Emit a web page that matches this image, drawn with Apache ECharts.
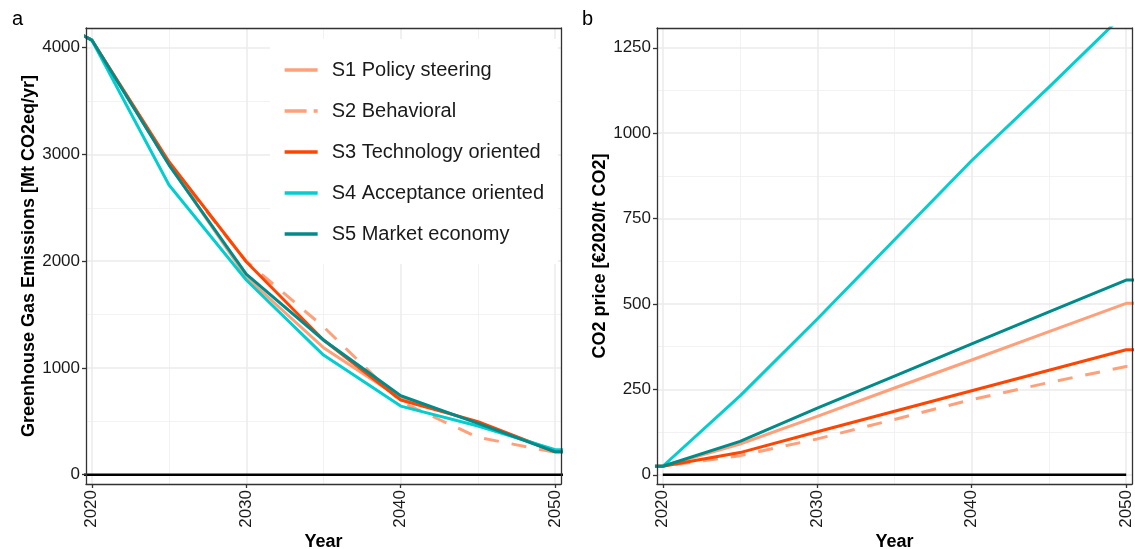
<!DOCTYPE html>
<html>
<head>
<meta charset="utf-8">
<title>Scenarios: emissions and CO2 price</title>
<script src="https://cdn.jsdelivr.net/npm/echarts@6/dist/echarts.min.js"></script>
<style>
  html, body { margin: 0; padding: 0; background: #fff; }
  #chart { width: 1135px; height: 549px; }
</style>
</head>
<body>
<div id="chart"></div>
<script>
// ---- data -------------------------------------------------------------
const years = [2019, 2020, 2025, 2030, 2035, 2040, 2045, 2050, 2051];

const scenarioNames = [
  'S1 Policy steering',
  'S2 Behavioral',
  'S3 Technology oriented',
  'S4 Acceptance oriented',
  'S5 Market economy'
];

// Greenhouse gas emissions [Mt CO2eq/yr]
const ghgS1 = [4150, 4072, 2910, 1850, 1190, 716, 490, 215, 215];
const ghgS2 = [4150, 4072, 2905, 2000, 1386, 684, 350, 210, 210];
const ghgS3 = [4150, 4072, 2932, 1995, 1262, 700, 497, 215, 215];
const ghgS4 = [4150, 4072, 2714, 1824, 1121, 643, 456, 235, 235];
const ghgS5 = [4150, 4072, 2901, 1880, 1262, 740, 481, 215, 215];

// CO2 price [EUR2020 / t CO2]
const priceS1 = [25, 25, 90, 171, 254, 336, 419, 502, 502];
const priceS2 = [25, 25, 56, 105, 162, 220, 270, 317, 317];
const priceS3 = [25, 25, 65, 126, 186, 246, 306, 366, 366];
const priceS4 = [25, 25, 231, 456, 688, 920, 1135, 1355, 1355];
const priceS5 = [25, 25, 98, 195, 289, 383, 477, 570, 570];

// zero reference lines
const zeroLineYearsA = [2019, 2051];
const zeroLineYearsB = [2020, 2050];

// ticks and grid lines
const yearTicks = [2020, 2030, 2040, 2050];
const yearMinor = [2025, 2035, 2045];
const ghgTicks = [0, 1000, 2000, 3000, 4000];
const ghgMinor = [500, 1500, 2500, 3500];
const priceTicks = [0, 250, 500, 750, 1000, 1250];
const priceMinor = [125, 375, 625, 875, 1125];

// ---- styling ----------------------------------------------------------
const FONT = "'Liberation Sans', Arial, Helvetica, sans-serif";
const colors = ['#FFA07A', '#FFA07A', '#FF4500', '#00CED1', '#008B8B'];
const dashes = ['solid', [15, 13], 'solid', 'solid', 'solid'];
const frame = { color: '#333333', width: 1.3 };
const majorGrid = { color: '#EBEBEB', width: 1.5, type: 'solid' };
const minorGrid = { color: '#EFEFEF', width: 0.8, type: 'solid' };

const xRange = { min: 2019.625, max: 2050.375 };
const ghgRange = { min: -87, max: 4185 };
const priceRange = { min: -27, max: 1308 };

const plain = v => String(v);

function zip(xs, ys) { return xs.map((x, i) => [x, ys[i]]); }

function bottomAxis(gridIndex) {
  return {
    type: 'value', gridIndex, position: 'bottom', ...xRange, z: 3,
    axisLine: { show: true, onZero: false, lineStyle: frame },
    axisTick: { show: true, customValues: yearTicks, length: 4, lineStyle: frame },
    axisLabel: { customValues: yearTicks, formatter: plain, rotate: 90, fontSize: 17, color: '#1a1a1a', margin: 6, fontFamily: FONT },
    splitLine: { show: false },
    name: 'Year', nameLocation: 'middle', nameGap: 49, nameMoveOverlap: false,
    nameTextStyle: { fontWeight: 'bold', fontSize: 18, color: '#000', fontFamily: FONT }
  };
}
function topAxis(gridIndex) {
  return {
    type: 'value', gridIndex, position: 'top', ...xRange, z: 3,
    axisLine: { show: true, onZero: false, lineStyle: frame },
    axisTick: { show: false }, axisLabel: { show: false }, splitLine: { show: false }
  };
}
function leftAxis(gridIndex, range, ticks, name) {
  return {
    type: 'value', gridIndex, position: 'left', ...range, z: 3,
    axisLine: { show: true, onZero: false, lineStyle: frame },
    axisTick: { show: true, customValues: ticks, length: 4, lineStyle: frame },
    axisLabel: { customValues: ticks, formatter: plain, fontSize: 17, color: '#1a1a1a', margin: 6, fontFamily: FONT },
    splitLine: { show: false },
    name, nameLocation: 'middle', nameGap: 46,
    nameTextStyle: { fontWeight: 'bold', fontSize: 18, color: '#000', fontFamily: FONT }
  };
}
function rightAxis(gridIndex, range) {
  return {
    type: 'value', gridIndex, position: 'right', ...range, z: 3,
    axisLine: { show: true, onZero: false, lineStyle: frame },
    axisTick: { show: false }, axisLabel: { show: false }, splitLine: { show: false }
  };
}

// light background grid drawn as mark lines underneath the data
function gridLines(axisIndex, yMajor, yMinor) {
  const items = [];
  yearMinor.forEach(v => items.push({ xAxis: v, lineStyle: minorGrid }));
  yMinor.forEach(v => items.push({ yAxis: v, lineStyle: minorGrid }));
  yearTicks.forEach(v => items.push({ xAxis: v, lineStyle: majorGrid }));
  yMajor.forEach(v => items.push({ yAxis: v, lineStyle: majorGrid }));
  return {
    type: 'line', xAxisIndex: axisIndex, yAxisIndex: axisIndex, data: [],
    z: 1, silent: true, symbol: 'none',
    markLine: {
      z: 1, silent: true, symbol: ['none', 'none'], label: { show: false },
      emphasis: { disabled: true }, animation: false, data: items
    }
  };
}

function zeroLine(axisIndex, xs) {
  return {
    type: 'line', xAxisIndex: axisIndex, yAxisIndex: axisIndex,
    data: zip(xs, xs.map(() => 0)), symbol: 'none', silent: true, z: 2,
    lineStyle: { color: '#000', width: 2.4 }
  };
}

function scenarioSeries(axisIndex, valueLists) {
  return valueLists.map((vals, i) => ({
    name: scenarioNames[i], type: 'line', xAxisIndex: axisIndex, yAxisIndex: axisIndex,
    data: zip(years, vals), symbol: 'none', showSymbol: false, clip: true, z: 2,
    color: colors[i],
    lineStyle: { color: colors[i], width: 3, type: dashes[i], cap: 'butt', join: 'round' },
    emphasis: { disabled: true }
  }));
}

const chart = echarts.init(document.getElementById('chart'), null, { renderer: 'canvas' });

chart.setOption({
  animation: false,
  backgroundColor: '#fff',
  textStyle: { fontFamily: FONT },
  grid: [
    { left: 86, top: 28, width: 475, height: 456, show: true, backgroundColor: '#fff', borderWidth: 0,
      containLabel: false, outerBoundsMode: 'none' },
    { left: 657, top: 28, width: 475, height: 456, show: true, backgroundColor: '#fff', borderWidth: 0,
      containLabel: false, outerBoundsMode: 'none' }
  ],
  xAxis: [bottomAxis(0), topAxis(0), bottomAxis(1), topAxis(1)],
  yAxis: [
    leftAxis(0, ghgRange, ghgTicks, 'Greenhouse Gas Emissions [Mt CO2eq/yr]'),
    rightAxis(0, ghgRange),
    leftAxis(1, priceRange, priceTicks, 'CO2 price [€2020/t CO2]'),
    rightAxis(1, priceRange)
  ],
  legend: {
    left: 270, top: 39, orient: 'vertical',
    backgroundColor: '#fff',
    padding: [21, 14, 20, 13],
    itemWidth: 33, itemHeight: 20, itemGap: 21,
    selectedMode: false,
    itemStyle: { color: 'rgba(0,0,0,0)', borderWidth: 0, opacity: 0 },
    lineStyle: { width: 3.3 },
    textStyle: { fontSize: 20, color: '#1a1a1a', lineHeight: 20, padding: [0, 0, 0, 9], fontFamily: FONT },
    data: [
      { name: scenarioNames[0] },
      { name: scenarioNames[1], lineStyle: { width: 3.3, type: [22, 7] } },
      { name: scenarioNames[2] },
      { name: scenarioNames[3] },
      { name: scenarioNames[4] }
    ]
  },
  graphic: [
    { type: 'text', left: 12, top: 9, style: { text: 'a', fontSize: 20, fill: '#000', fontFamily: FONT } },
    { type: 'text', left: 582, top: 9, style: { text: 'b', fontSize: 20, fill: '#000', fontFamily: FONT } }
  ],
  series: [
    gridLines(0, ghgTicks, ghgMinor),
    gridLines(2, priceTicks, priceMinor),
    zeroLine(0, zeroLineYearsA),
    zeroLine(2, zeroLineYearsB),
    ...scenarioSeries(0, [ghgS1, ghgS2, ghgS3, ghgS4, ghgS5]),
    ...scenarioSeries(2, [priceS1, priceS2, priceS3, priceS4, priceS5])
  ]
});
</script>
</body>
</html>
